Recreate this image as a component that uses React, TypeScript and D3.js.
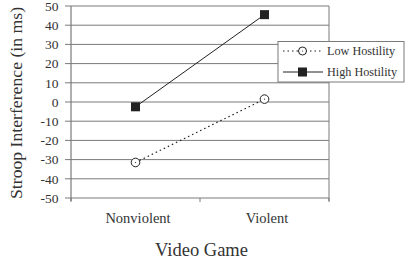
import React from "react";
import * as d3 from "d3";

const categories = ["Nonviolent", "Violent"];
const lowHostility = [-31.5, 1.5];
const highHostility = [-2.5, 45.5];
const yTicks = [50, 40, 30, 20, 10, 0, -10, -20, -30, -40, -50];
const seriesNames = ["Low Hostility", "High Hostility"];

export default function App() {
  const W = 409, H = 264;
  const left = 71, right = 329, top = 6, bottom = 198;
  const x = d3.scaleBand<string>().domain(categories).range([left, right]);
  const y = d3.scaleLinear().domain([-50, 50]).range([bottom, top]);
  const cx = (c: string) => (x(c) as number) + x.bandwidth() / 2;
  const line = d3.line<number>().x((_, i) => cx(categories[i])).y((d) => y(d));
  const font = "Liberation Serif, Times New Roman, serif";
  const gridColor = "#7a7a7a";
  const ink = "#222";
  const bandEdges = [left, left + x.bandwidth(), right];
  return (
    <svg width={W} height={H} style={{ position: "absolute", left: 0, top: 0, fontFamily: font }}>
      {yTicks.map((t) => (
        <g key={t}>
          <line x1={left} x2={right} y1={y(t)} y2={y(t)} stroke={gridColor} strokeWidth={1} />
          <line x1={left - 6} x2={left} y1={y(t)} y2={y(t)} stroke={gridColor} strokeWidth={1} />
          <text x={58.5} y={y(t)} dy="0.35em" textAnchor="end" fontSize={13.5} fill="#333">{t}</text>
        </g>
      ))}
      <line x1={right} x2={right} y1={top} y2={bottom + 3} stroke={gridColor} />
      <line x1={left} x2={left} y1={top} y2={bottom + 3} stroke={gridColor} strokeWidth={1.2} />
      {bandEdges.map((e, i) => (
        <line key={i} x1={e} x2={e} y1={bottom} y2={bottom + 4} stroke={gridColor} />
      ))}
      {categories.map((c) => (
        <text key={c} x={cx(c) + 2.5} y={223} textAnchor="middle" fontSize={14.5} fill="#333">{c}</text>
      ))}
      <text x={201.5} y={256} textAnchor="middle" fontSize={18.5} fill="#333">Video Game</text>
      <text transform={`translate(22,${(top + bottom) / 2 + 1}) rotate(-90)`} textAnchor="middle" fontSize={17.7} fill="#333">Stroop Interference (in ms)</text>

      <path d={line(highHostility) as string} fill="none" stroke={ink} strokeWidth={1} />
      <path d={line(lowHostility) as string} fill="none" stroke={ink} strokeWidth={1.2} strokeDasharray="1.5,3" />
      {highHostility.map((v, i) => (
        <rect key={i} x={cx(categories[i]) - 4.5} y={y(v) - 4.5} width={9} height={9} fill={ink} />
      ))}
      {lowHostility.map((v, i) => (
        <g key={i}>
          <circle cx={cx(categories[i])} cy={y(v)} r={4.3} fill="#fff" stroke={ink} strokeWidth={1} />
          <circle cx={cx(categories[i])} cy={y(v)} r={0.6} fill={ink} />
        </g>
      ))}

      <g>
        <rect x={278} y={41.5} width={126} height={40.5} fill="#fff" stroke={gridColor} />
        <line x1={283} x2={323} y1={51} y2={51} stroke={ink} strokeWidth={1.2} strokeDasharray="1.5,3" />
        <circle cx={302.5} cy={51} r={4} fill="#fff" stroke={ink} />
        <circle cx={302.5} cy={51} r={0.6} fill={ink} />
        <text x={327} y={51} dy="0.35em" fontSize={12.2} fill="#333">{seriesNames[0]}</text>
        <line x1={283} x2={323} y1={72} y2={72} stroke={ink} />
        <rect x={298} y={67.5} width={9} height={9} fill={ink} />
        <text x={327} y={72} dy="0.35em" fontSize={12.2} fill="#333">{seriesNames[1]}</text>
      </g>
    </svg>
  );
}
